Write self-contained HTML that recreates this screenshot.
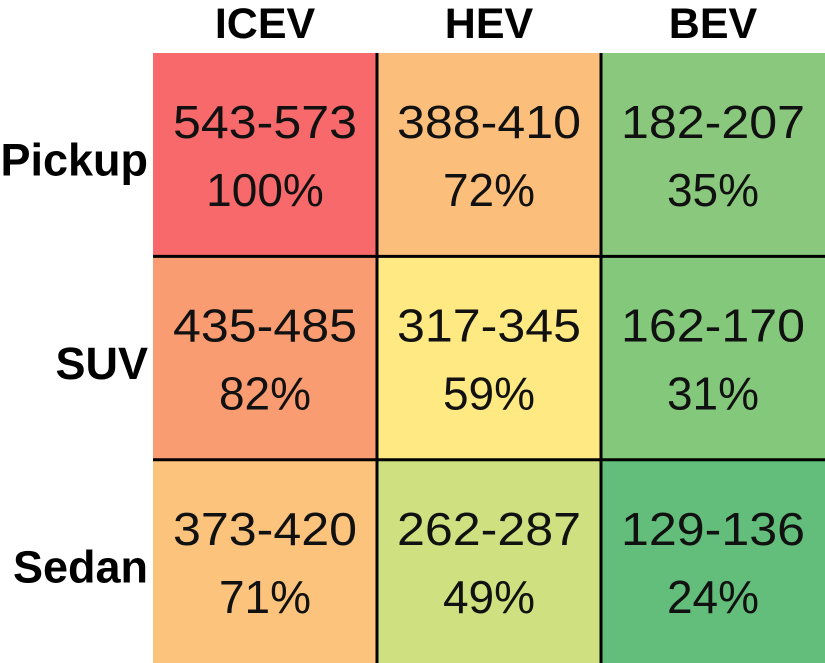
<!DOCTYPE html>
<html><head><meta charset="utf-8"><style>
html,body{margin:0;padding:0;background:#fff;}
svg{display:block;font-family:"Liberation Sans",Arial,sans-serif;}
</style></head><body>
<svg id="chart" width="825" height="663" viewBox="0 0 825 663"></svg>
<script>
const columns = ["ICEV","HEV","BEV"];
const rows = ["Pickup","SUV","Sedan"];
const ranges = [["543-573","388-410","182-207"],["435-485","317-345","162-170"],["373-420","262-287","129-136"]];
const percents = [[100,72,35],[82,59,31],[71,49,24]];
const colors = [["#f8696b","#fcbf7b","#8ac97d"],["#f99c72","#fee983","#84c87c"],["#fcc37c","#cee07f","#63be7b"]];
const NS="http://www.w3.org/2000/svg";
const svg=document.getElementById("chart");
const x0=153,y0=53,cw=224,ch=203.4;
const xPos=i=>x0+i*cw, yPos=j=>y0+j*ch;
function mk(t,a){const e=document.createElementNS(NS,t);for(const k in a)e.setAttribute(k,a[k]);svg.appendChild(e);return e;}
rows.forEach((r,j)=>{
  columns.forEach((c,i)=>{
    const rect=mk("rect",{x:xPos(i),y:yPos(j),width:cw+0.5,height:ch+0.5,fill:colors[j][i]});
    
    
    const cx=xPos(i)+cw/2;
    const t1=mk("text",{x:cx,y:yPos(j)+85,"text-anchor":"middle","font-size":46,fill:"#111",textLength:184,lengthAdjust:"spacingAndGlyphs"});
    t1.textContent=ranges[j][i];
    
    
    const t2=mk("text",{x:cx,y:yPos(j)+153,"text-anchor":"middle","font-size":46,fill:"#111"});
    t2.textContent=percents[j][i]+"%";
    
    
  });
  const rl=mk("text",{x:148,y:yPos(j)+ch/2+21,"text-anchor":"end","font-size":45,"font-weight":"bold",fill:"#000"});
  rl.textContent=r;
  
  
});
columns.forEach((c,i)=>{
  const t=mk("text",{x:xPos(i)+cw/2,y:38,"text-anchor":"middle","font-size":43,"font-weight":"bold",fill:"#000"});
  t.textContent=c;
  
  
});
for(let i=1;i<columns.length;i++){
  const l=mk("line",{x1:xPos(i),x2:xPos(i),y1:y0,y2:663,stroke:"#000","stroke-width":3});
  
  
}
for(let j=1;j<rows.length;j++){
  const l=mk("line",{x1:x0,x2:825,y1:yPos(j),y2:yPos(j),stroke:"#000","stroke-width":3});
  
  
}
</script>
</body></html>
